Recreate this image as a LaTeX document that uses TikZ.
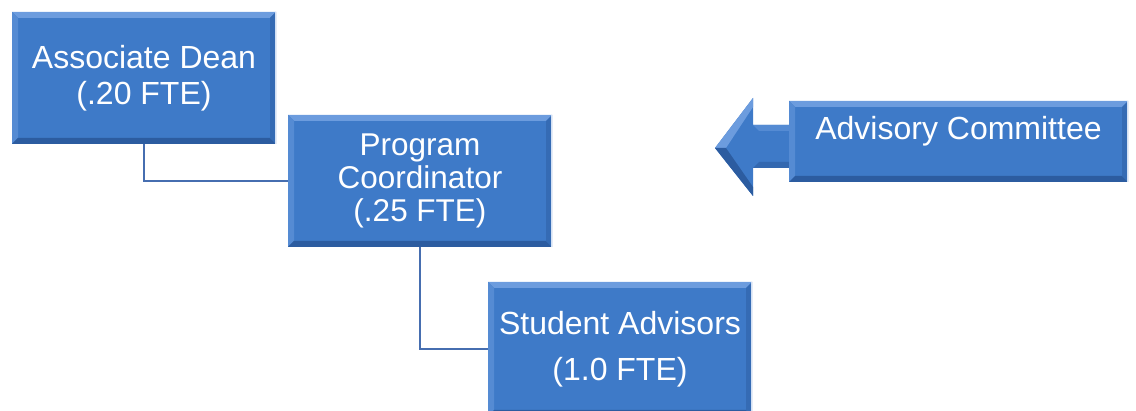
\documentclass[tikz,border=0pt]{standalone}
\usepackage{fontspec}
\setmainfont{Liberation Sans}
\definecolor{boxblue}{RGB}{62,122,200}
\definecolor{boxlight}{RGB}{108,156,222}
\definecolor{boxdark}{RGB}{44,92,160}
\definecolor{linkblue}{RGB}{70,110,176}
\tikzset{
  bevel/.style={path picture={
      % top and left facets light, bottom and right facets dark
      \fill[boxlight] (path picture bounding box.north west) -- (path picture bounding box.north east)
        -- ([xshift=-#1,yshift=-#1]path picture bounding box.north east) -- ([xshift=#1,yshift=-#1]path picture bounding box.north west) -- cycle;
      \fill[boxlight!50!boxblue] (path picture bounding box.north west) -- ([xshift=#1,yshift=-#1]path picture bounding box.north west)
        -- ([xshift=#1,yshift=#1]path picture bounding box.south west) -- (path picture bounding box.south west) -- cycle;
      \fill[boxdark] (path picture bounding box.south west) -- (path picture bounding box.south east)
        -- ([xshift=-#1,yshift=#1]path picture bounding box.south east) -- ([xshift=#1,yshift=#1]path picture bounding box.south west) -- cycle;
      \fill[boxdark!50!boxblue] (path picture bounding box.north east) -- ([xshift=-#1,yshift=-#1]path picture bounding box.north east)
        -- ([xshift=-#1,yshift=#1]path picture bounding box.south east) -- (path picture bounding box.south east) -- cycle;
      \draw[white!70!boxlight, line width=1.2pt] ([xshift=-0.6pt]path picture bounding box.north east) -- ([xshift=-0.6pt]path picture bounding box.south east);
    }},
  orgbox/.style={fill=boxblue, bevel=6pt, text=white, align=center, inner sep=0pt,
    minimum width=264pt, minimum height=132pt},
  link/.style={draw=linkblue, line width=1.8pt},
}
\begin{document}
\begin{tikzpicture}[x=1pt, y=-1pt]
  \useasboundingbox (0,0) rectangle (1136,411);
  \clip (0,0) rectangle (1136,411);
  % staff boxes
  \node[orgbox, font=\fontsize{32}{36}\selectfont] (dean) at (144,78) {Associate Dean\\(.20 FTE)};
  \node[orgbox, font=\fontsize{31.5}{33}\selectfont] (coord) at (420,181) {Program\\Coordinator\\(.25 FTE)};
  \node[orgbox, font=\fontsize{32}{46}\selectfont, minimum height=134pt] (advisors) at (620,349) {Student Advisors\\(1.0 FTE)};
  % reporting lines
  \draw[link] (dean.south) |- (coord.west);
  \draw[link] (coord.south) |- (advisors.west);
  % arrow pointing back at the org chart
  \fill[boxblue] (715,148) -- (753,98) -- (753,125) -- (792,125) -- (792,168) -- (753,168) -- (753,196) -- cycle;
  \fill[boxlight] (715,148) -- (753,98) -- (753,107) -- (726,148) -- cycle;
  \fill[boxdark] (715,148) -- (753,196) -- (753,187) -- (726,148) -- cycle;
  \fill[boxlight!50!boxblue] (753,125) -- (792,125) -- (792,131) -- (759,131) -- cycle;
  \fill[boxdark!60!boxblue] (753,168) -- (792,168) -- (792,162) -- (759,162) -- cycle;
  \node[orgbox, minimum width=339pt, minimum height=81pt, text height=20pt, text depth=23pt,
    font=\fontsize{32}{36}\selectfont] (committee) at (958.5,141.5) {Advisory Committee};
\end{tikzpicture}
\end{document}
